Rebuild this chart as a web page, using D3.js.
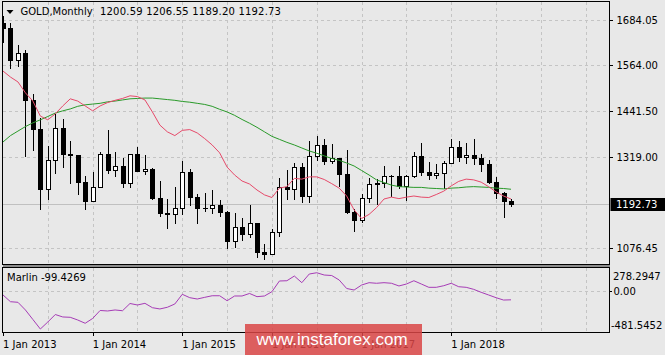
<!DOCTYPE html>
<html>
<head>
<meta charset="utf-8">
<script src="https://cdn.jsdelivr.net/npm/d3@7"></script>
<style>
  body { margin: 0; background: #e8e8e8; }
  svg { display: block; font-family: "DejaVu Sans", sans-serif; font-size: 10px; }
</style>
</head>
<body>
<div id="chart"></div>
<script>
// GOLD monthly, Jan 2013 .. Sep 2018
const opens = [1675,1663,1578,1596,1472,1393,1234,1312,1396,1327,1323,1253,
  1202,1240,1326,1284,1296,1250,1327,1282,1287,1210,1171,1167,
  1184,1279,1213,1183,1184,1190,1172,1095,1133,1115,1142,1065,
  1061,1118,1238,1233,1292,1215,1321,1351,1309,1316,1273,1173,
  1151,1210,1248,1249,1268,1268,1241,1268,1321,1280,1271,1275,
  1303,1345,1318,1325,1315,1299,1253,1224,1200.59];
const highs = [1694,1676,1617,1605,1487,1424,1348,1434,1420,1361,1323,1267,
  1280,1332,1392,1331,1315,1325,1345,1323,1290,1256,1208,1238,
  1307,1287,1220,1224,1232,1205,1175,1170,1157,1191,1143,1088,
  1128,1263,1283,1304,1303,1362,1375,1367,1353,1317,1337,1180,
  1220,1264,1261,1296,1270,1296,1270,1331,1357,1306,1299,1309,
  1366,1361,1356,1366,1326,1310,1266,1226,1206.55];
const lows = [1626,1555,1562,1321,1338,1180,1208,1275,1293,1251,1221,1181,
  1202,1238,1277,1268,1240,1240,1281,1273,1206,1161,1131,1142,
  1167,1191,1142,1175,1169,1162,1077,1080,1097,1107,1052,1046,
  1061,1108,1208,1208,1200,1200,1310,1301,1302,1241,1171,1122,
  1146,1200,1195,1240,1214,1237,1204,1265,1271,1260,1264,1236,
  1302,1307,1303,1301,1282,1251,1211,1160,1189.20];
const closes = [1663,1578,1596,1472,1393,1234,1312,1396,1327,1323,1253,1202,
  1240,1326,1284,1296,1250,1327,1282,1287,1210,1171,1167,1184,
  1279,1213,1183,1184,1190,1172,1095,1133,1115,1142,1065,1061,
  1118,1238,1233,1292,1215,1321,1351,1309,1316,1273,1173,1151,
  1210,1248,1249,1268,1268,1241,1268,1321,1280,1271,1275,1303,
  1345,1318,1325,1315,1299,1253,1224,1201,1192.73];

const fastMa = [1548,1532,1519,1490,1468,1428,1418,1434,1455,1474,1468,1455,
  1442,1455,1464,1470,1475,1482,1480,1471,1439,1404,1386,1376,
  1390,1392,1383,1368,1351,1330,1292,1271,1255,1247,1231,1218,
  1211,1236,1240,1262,1260,1266,1266,1259,1248,1236,1215,1178,
  1155,1166,1184,1207,1212,1208,1212,1215,1212,1211,1219,1228,
  1242,1254,1260,1258,1252,1240,1226,1215,1207];
const slowMa = [1359,1376,1388,1400,1410,1418,1427,1436,1442,1447,1454,1458,
  1460,1462,1466,1468,1471,1474,1475,1476,1476,1474,1472,1470,
  1467,1465,1462,1459,1454,1446,1439,1430,1419,1409,1398,1386,
  1374,1366,1358,1351,1343,1335,1329,1322,1315,1310,1303,1295,
  1283,1271,1258,1251,1244,1240,1239,1238,1238,1236,1235,1234,
  1236,1237,1239,1240,1239,1238,1236,1235,1233];
const marlin = [-42,-122,-129,-220,-333,-446,-363,-274,-303,-307,-339,-378,
  -321,-226,-232,-220,-229,-143,-161,-141,-193,-208,-188,-149,
  -34,-74,-90,-70,-51,-51,-110,-54,-54,-24,-62,-54,
  -3,124,127,183,104,207,222,195,189,136,35,17,
  76,104,97,104,97,65,88,127,88,49,49,68,
  97,56,49,25,-10,-42,-74,-102,-99.4269];

const priceTicks = [1684.05, 1564.00, 1441.50, 1319.00, 1076.45];
const marlinRange = [-481.5452, 278.2947];
const yearBars = [0, 12, 24, 36, 48, 60];
const yearLabels = ["1 Jan 2013", "1 Jan 2014", "1 Jan 2015", "1 Jan 2016", "1 Jan 2017", "1 Jan 2018"];
const symbol = "GOLD,Monthly";
const lastBar = ["1200.59", "1206.55", "1189.20", "1192.73"];
const marlinName = "Marlin";

const width = 665, height = 355;
const left = 2.5, right = 609.5;
const mainTop = 1.5, mainBottom = 264.5;
const subTop = 267.5, subBottom = 332.5;

const svg = d3.select("#chart").append("svg")
  .attr("width", width)
  .attr("height", height);

svg.append("rect")
  .attr("width", width)
  .attr("height", height)
  .attr("fill", "#e8e8e8");

const x = d3.scaleLinear().domain([0, opens.length - 1]).range([3, 511]);
const y = d3.scaleLinear().domain([1076.45, 1684.05]).range([248, 20]);
const ySub = d3.scaleLinear().domain(marlinRange).range([332, 268]);

const px = (v) => Math.round(v) + 0.5;

// grid
const grid = svg.append("g")
  .attr("stroke", "#c4c4c4")
  .attr("stroke-dasharray", "3,3")
  .attr("shape-rendering", "crispEdges");

d3.range(6, 90, 6).filter((i) => x(i) < right - 2).forEach((i) => {
  grid.append("line")
    .attr("x1", px(x(i))).attr("x2", px(x(i)))
    .attr("y1", mainTop).attr("y2", mainBottom);
  grid.append("line")
    .attr("x1", px(x(i))).attr("x2", px(x(i)))
    .attr("y1", subTop).attr("y2", subBottom);
});

priceTicks.forEach((t) => {
  grid.append("line")
    .attr("x1", left).attr("x2", right)
    .attr("y1", px(y(t))).attr("y2", px(y(t)));
});

grid.append("line")
  .attr("x1", left).attr("x2", right)
  .attr("y1", px(ySub(0))).attr("y2", px(ySub(0)));

// last price line
const lastClose = closes[closes.length - 1];
svg.append("line")
  .attr("x1", left).attr("x2", right)
  .attr("y1", px(y(lastClose))).attr("y2", px(y(lastClose)))
  .attr("stroke", "#c0c0c0")
  .attr("shape-rendering", "crispEdges");

svg.append("clipPath").attr("id", "mainClip")
  .append("rect")
  .attr("x", 3).attr("y", 2)
  .attr("width", right - 3.5).attr("height", mainBottom - 2.5);

svg.append("clipPath").attr("id", "subClip")
  .append("rect")
  .attr("x", 3).attr("y", subTop + 0.5)
  .attr("width", right - 3.5).attr("height", subBottom - subTop - 1);

const plot = svg.append("g").attr("clip-path", "url(#mainClip)");

// candles
const candles = plot.append("g").attr("shape-rendering", "crispEdges");
opens.forEach((o, i) => {
  const c = closes[i];
  const cx = Math.round(x(i));
  candles.append("line")
    .attr("x1", cx + 0.5).attr("x2", cx + 0.5)
    .attr("y1", Math.round(y(highs[i]))).attr("y2", Math.round(y(lows[i])) + 1)
    .attr("stroke", "#000");
  const top = Math.round(y(Math.max(o, c)));
  const bottom = Math.round(y(Math.min(o, c)));
  if (bottom - top < 1) {
    candles.append("line")
      .attr("x1", cx - 2).attr("x2", cx + 3)
      .attr("y1", top + 0.5).attr("y2", top + 0.5)
      .attr("stroke", "#000");
  } else {
    candles.append("rect")
      .attr("x", cx - 1.5)
      .attr("y", top + 0.5)
      .attr("width", 4)
      .attr("height", bottom - top)
      .attr("fill", c < o ? "#000" : "#fff")
      .attr("stroke", "#000");
  }
});

const line = (scale) => d3.line().x((d, i) => x(i)).y((d) => scale(d));

plot.append("path")
  .datum(slowMa)
  .attr("d", line(y))
  .attr("fill", "none")
  .attr("stroke", "#2a9a2a")
  .attr("stroke-width", 1);

plot.append("path")
  .datum(fastMa)
  .attr("d", line(y))
  .attr("fill", "none")
  .attr("stroke", "#e64a6a")
  .attr("stroke-width", 1);

svg.append("g").attr("clip-path", "url(#subClip)")
  .append("path")
  .datum(marlin)
  .attr("d", line(ySub))
  .attr("fill", "none")
  .attr("stroke", "#a63cb6")
  .attr("stroke-width", 1);

// frames
const frames = svg.append("g").attr("shape-rendering", "crispEdges").attr("fill", "none");
frames.append("rect")
  .attr("x", left).attr("y", mainTop)
  .attr("width", right - left).attr("height", mainBottom - mainTop)
  .attr("stroke", "#000");
frames.append("rect")
  .attr("x", left).attr("y", mainBottom + 0.5)
  .attr("width", right - left).attr("height", 2)
  .attr("fill", "#8c8c8c");
frames.append("rect")
  .attr("x", left).attr("y", subTop)
  .attr("width", right - left).attr("height", subBottom - subTop)
  .attr("stroke", "#000");

// price axis
const priceAxis = svg.append("g")
  .attr("transform", `translate(${right},0)`)
  .call(d3.axisRight(y).tickValues(priceTicks).tickFormat(d3.format(".2f")).tickSize(3).tickPadding(4))
  .attr("font-family", null)
  .attr("font-size", null);
priceAxis.select(".domain").remove();
priceAxis.selectAll(".tick line").attr("stroke", "#000").attr("shape-rendering", "crispEdges");
priceAxis.selectAll(".tick text").attr("fill", "#000");

const lastY = Math.round(y(lastClose));
svg.append("rect")
  .attr("x", right + 1)
  .attr("y", lastY - 6)
  .attr("width", width - right)
  .attr("height", 13)
  .attr("fill", "#000");
svg.append("text")
  .attr("x", 616)
  .attr("y", lastY)
  .attr("dy", "0.35em")
  .attr("fill", "#fff")
  .text(lastClose.toFixed(2));

// marlin axis
const subAxis = svg.append("g")
  .attr("transform", `translate(${right},0)`)
  .call(d3.axisRight(ySub).tickValues([0]).tickFormat(d3.format(".2f")).tickSize(2).tickPadding(2))
  .attr("font-family", null)
  .attr("font-size", null);
subAxis.select(".domain").remove();
subAxis.selectAll(".tick line").attr("stroke", "#000").attr("shape-rendering", "crispEdges");
subAxis.selectAll(".tick text").attr("fill", "#000");

svg.append("text")
  .attr("x", 613)
  .attr("y", ySub(marlinRange[1]) + 8)
  .attr("dy", "0.35em")
  .text(marlinRange[1].toFixed(4));
svg.append("text")
  .attr("x", 611)
  .attr("y", ySub(marlinRange[0]) - 7)
  .attr("dy", "0.35em")
  .text(marlinRange[0].toFixed(4));

// time axis
const timeAxis = svg.append("g")
  .attr("transform", `translate(0,${subBottom})`)
  .call(d3.axisBottom(x).tickValues(yearBars).tickFormat((d, i) => yearLabels[i]).tickSize(3).tickPadding(5))
  .attr("font-family", null)
  .attr("font-size", null);
timeAxis.select(".domain").remove();
timeAxis.selectAll(".tick line").attr("stroke", "#000").attr("shape-rendering", "crispEdges");
timeAxis.selectAll(".tick text").attr("fill", "#000").attr("text-anchor", "start").attr("x", -0.5);

// header
svg.append("path")
  .attr("d", "M6.5,10 L13.5,10 L10,14 Z")
  .attr("fill", "#000");
svg.append("text")
  .attr("x", 20.5)
  .attr("y", 15)
  .attr("fill", "#000")
  .text(symbol);
svg.append("text")
  .attr("x", 100)
  .attr("y", 15)
  .attr("fill", "#000")
  .attr("letter-spacing", "0.2px")
  .text(lastBar.join(" "));

svg.append("text")
  .attr("x", 7)
  .attr("y", 281)
  .attr("fill", "#000")
  .text(`${marlinName} ${marlin[marlin.length - 1]}`);

// watermark
svg.append("rect")
  .attr("x", 245)
  .attr("y", 324)
  .attr("width", 177)
  .attr("height", 31)
  .attr("fill", "#d94545")
  .attr("opacity", 0.85);
svg.append("text")
  .attr("x", 332)
  .attr("y", 344.5)
  .attr("text-anchor", "middle")
  .attr("font-family", "'Liberation Sans', Arial, sans-serif")
  .attr("font-size", 17)
  .attr("fill", "#fff")
  .text("www.instaforex.com");
</script>
</body>
</html>
